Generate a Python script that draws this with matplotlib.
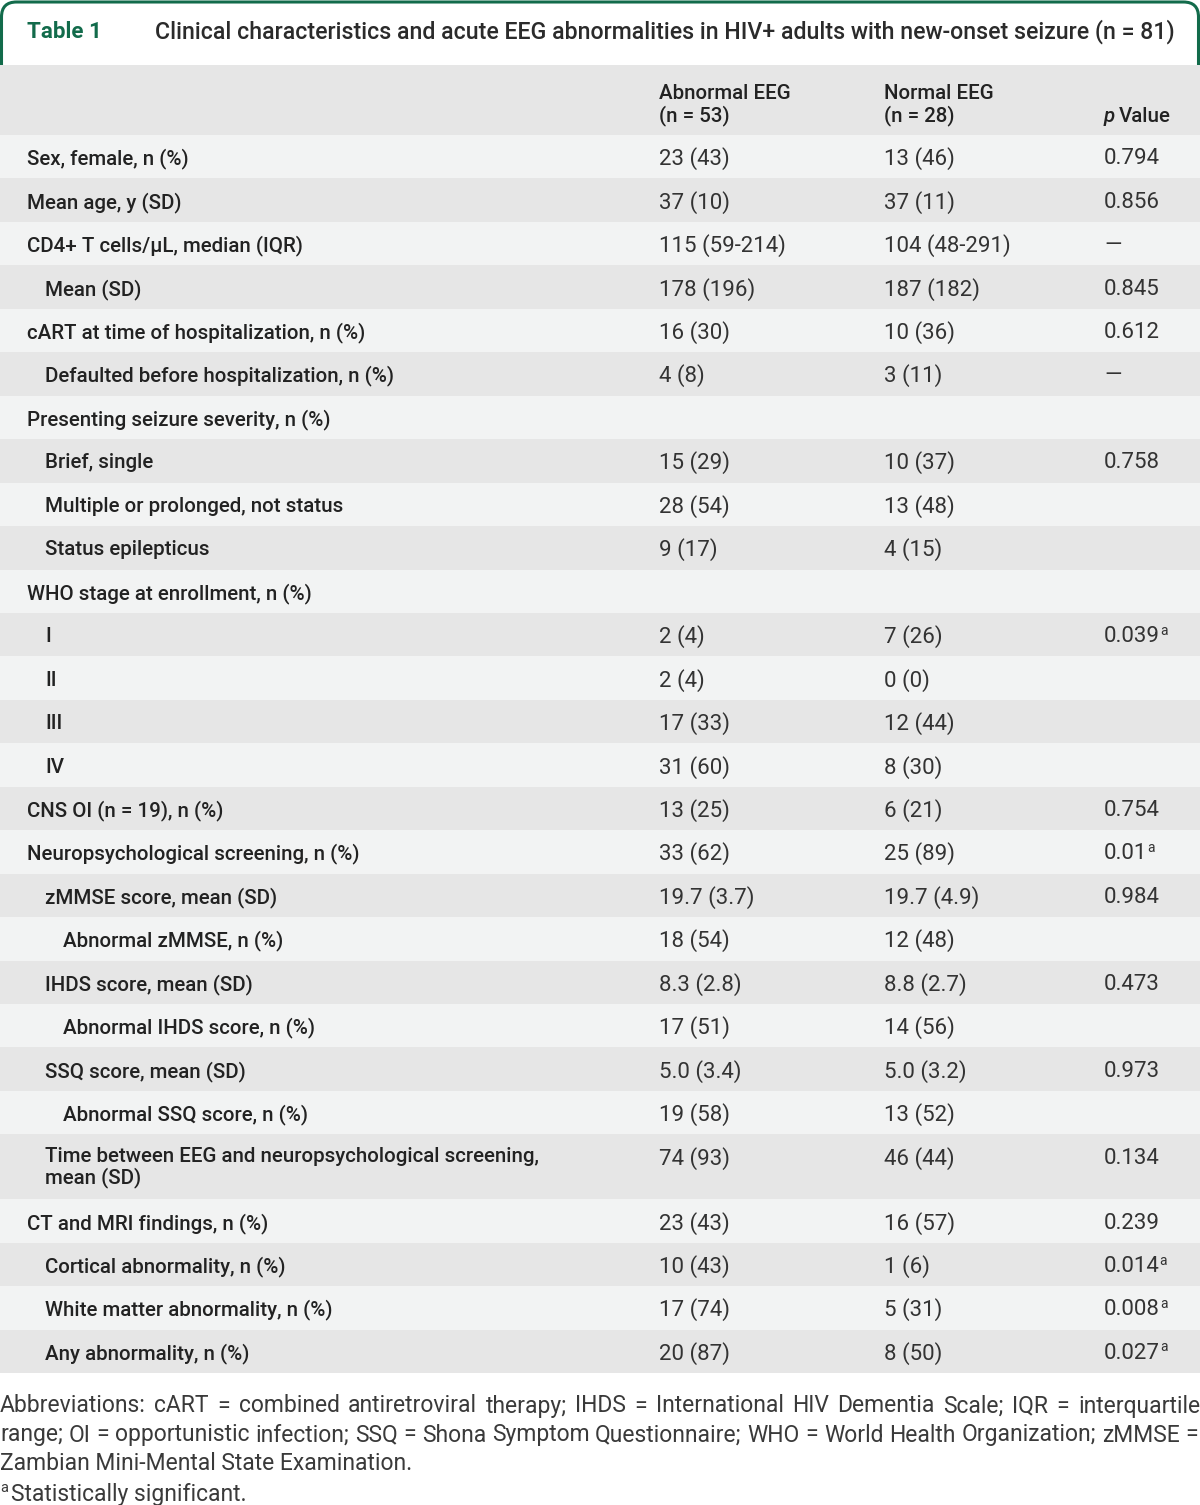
import matplotlib
matplotlib.use("Agg")
import matplotlib.pyplot as plt
from matplotlib.patches import Rectangle, PathPatch
from matplotlib.path import Path

# ---- table content ----
labels = [
    "Sex, female, n (%)", "Mean age, y (SD)", "CD4+ T cells/\u03bcL, median (IQR)", "Mean (SD)",
    "cART at time of hospitalization, n (%)", "Defaulted before hospitalization, n (%)",
    "Presenting seizure severity, n (%)", "Brief, single", "Multiple or prolonged, not status",
    "Status epilepticus", "WHO stage at enrollment, n (%)", "I", "II", "III", "IV",
    "CNS OI (n = 19), n (%)", "Neuropsychological screening, n (%)", "zMMSE score, mean (SD)",
    "Abnormal zMMSE, n (%)", "IHDS score, mean (SD)", "Abnormal IHDS score, n (%)",
    "SSQ score, mean (SD)", "Abnormal SSQ score, n (%)",
    "Time between EEG and neuropsychological screening,\nmean (SD)",
    "CT and MRI findings, n (%)", "Cortical abnormality, n (%)",
    "White matter abnormality, n (%)", "Any abnormality, n (%)",
]
indent = [0, 0, 0, 1, 0, 1, 0, 1, 1, 1, 0, 1, 1, 1, 1, 0, 0, 1, 2, 1, 2, 1, 2, 1, 0, 1, 1, 1]
abnormal = ["23 (43)", "37 (10)", "115 (59-214)", "178 (196)", "16 (30)", "4 (8)", "",
            "15 (29)", "28 (54)", "9 (17)", "", "2 (4)", "2 (4)", "17 (33)", "31 (60)",
            "13 (25)", "33 (62)", "19.7 (3.7)", "18 (54)", "8.3 (2.8)", "17 (51)",
            "5.0 (3.4)", "19 (58)", "74 (93)", "23 (43)", "10 (43)", "17 (74)", "20 (87)"]
normal = ["13 (46)", "37 (11)", "104 (48-291)", "187 (182)", "10 (36)", "3 (11)", "",
          "10 (37)", "13 (48)", "4 (15)", "", "7 (26)", "0 (0)", "12 (44)", "8 (30)",
          "6 (21)", "25 (89)", "19.7 (4.9)", "12 (48)", "8.8 (2.7)", "14 (56)",
          "5.0 (3.2)", "13 (52)", "46 (44)", "16 (57)", "1 (6)", "5 (31)", "8 (50)"]
pvals = ["0.794", "0.856", "\u2014", "0.845", "0.612", "\u2014", "", "0.758", "", "", "",
         "0.039", "", "", "", "0.754", "0.01", "0.984", "", "0.473", "", "0.973", "",
         "0.134", "0.239", "0.014", "0.008", "0.027"]
significant = ["0.039", "0.01", "0.014", "0.008", "0.027"]

title_tag = "Table 1"
title = "Clinical characteristics and acute EEG abnormalities in HIV+ adults with new-onset seizure (n = 81)"
col_heads = ["Abnormal EEG\n(n = 53)", "Normal EEG\n(n = 28)"]
footnote_lines = [
    "Abbreviations: cART = combined antiretroviral therapy; IHDS = International HIV Dementia Scale; IQR = interquartile",
    "range; OI = opportunistic infection; SSQ = Shona Symptom Questionnaire; WHO = World Health Organization; zMMSE =",
    "Zambian Mini-Mental State Examination.",
]
footnote_sig = "Statistically significant."

# ---- style ----
GREEN = "#126b4b"
DARK = "#e6e6e6"
LIGHT = "#f2f3f3"
INK = "#222222"
FONT = "Roboto"
LAB_FS = 14.8
VAL_FS = 16
FOOT_FS = 16.5

W, H = 1200, 1505
fig = plt.figure(figsize=(W / 100, H / 100), dpi=100)
ax = fig.add_axes([0, 0, 1, 1])
ax.set_xlim(0, W)
ax.set_ylim(H, 0)
ax.axis("off")
rend = fig.canvas.get_renderer()

# title tab
r = 15
top, bot, lft, rgt = 2, 66, 1.5, 1198.5
verts = [(lft, bot), (lft, top + r), (lft, top), (lft + r, top), (rgt - r, top),
         (rgt, top), (rgt, top + r), (rgt, bot)]
codes = [Path.MOVETO, Path.LINETO, Path.CURVE3, Path.CURVE3, Path.LINETO,
         Path.CURVE3, Path.CURVE3, Path.LINETO]
ax.add_patch(PathPatch(Path(verts, codes), fill=False, edgecolor=GREEN, lw=2.2))
ax.text(27, 32, title_tag, color=GREEN, fontsize=16, fontfamily=FONT,
        fontweight="bold", va="center")
ax.text(155, 32, title, color="#2b2b2b", fontsize=16.7, fontfamily=FONT,
        fontweight="medium", va="center")

# header band
head_top, head_bot = 65, 135
ax.add_patch(Rectangle((0, head_top), W, head_bot - head_top, color=DARK, lw=0))
col_x = [659, 884, 1104]
for x, h in zip(col_x, col_heads):
    ax.text(x, 105, h, fontsize=14.8, fontfamily=FONT, fontweight="medium",
            color=INK, va="center", linespacing=1.1)
t = ax.text(col_x[2], 116, "p", fontsize=14.8, fontfamily=FONT, fontweight="medium",
            fontstyle="italic", color=INK, va="center")
pw = t.get_window_extent(rend).width
ax.text(col_x[2] + pw + 4, 116, "Value", fontsize=14.8, fontfamily=FONT,
        fontweight="medium", color=INK, va="center")

# body rows
row_h = 43.45
tall_h = 65
y = head_bot
for i, lab in enumerate(labels):
    two = "\n" in lab
    h = tall_h if two else row_h
    ax.add_patch(Rectangle((0, y), W, h, color=DARK if i % 2 else LIGHT, lw=0))
    ty = y + row_h / 2 + 2
    ax.text(27 + 18 * indent[i], ty - 11 if two else ty, lab, fontsize=LAB_FS,
            fontfamily=FONT, fontweight="medium", color=INK,
            va="top" if two else "center", linespacing=1.05)
    ax.text(col_x[0], ty, abnormal[i], fontsize=VAL_FS, fontfamily=FONT, color="#333333", va="center")
    ax.text(col_x[1], ty, normal[i], fontsize=VAL_FS, fontfamily=FONT, color="#333333", va="center")
    pt = ax.text(col_x[2], ty, pvals[i], fontsize=VAL_FS, fontfamily=FONT, color="#333333", va="center")
    if pvals[i] in significant:
        ext = pt.get_window_extent(rend)
        ax.text(col_x[2] + ext.width, ty - 6, "a", fontsize=10, fontfamily=FONT,
                color="#333333", va="center")
    y += h

# footnotes, justified
def justify(line, yy, x0, x1):
    words = line.split(" ")
    texts = [ax.text(0, yy, w, fontsize=FOOT_FS, fontfamily=FONT,
                     color="#3a3a3a", va="center") for w in words]
    widths = [tx.get_window_extent(rend).width for tx in texts]
    gap = (x1 - x0 - sum(widths)) / (len(words) - 1)
    x = x0
    for tx, w in zip(texts, widths):
        tx.set_x(x)
        x += w + gap

foot_y = [1406, 1435, 1464]
justify(footnote_lines[0], foot_y[0], 0, 1200)
justify(footnote_lines[1], foot_y[1], 0, 1198)
ax.text(0, foot_y[2], footnote_lines[2], fontsize=FOOT_FS, fontfamily=FONT,
        color="#3a3a3a", va="center")
ax.text(0, 1488, "a", fontsize=10.5, fontfamily=FONT, color="#3a3a3a", va="center")
ax.text(11, 1494, footnote_sig, fontsize=FOOT_FS, fontfamily=FONT,
        color="#3a3a3a", va="center")

fig.savefig("out.png", dpi=100)
